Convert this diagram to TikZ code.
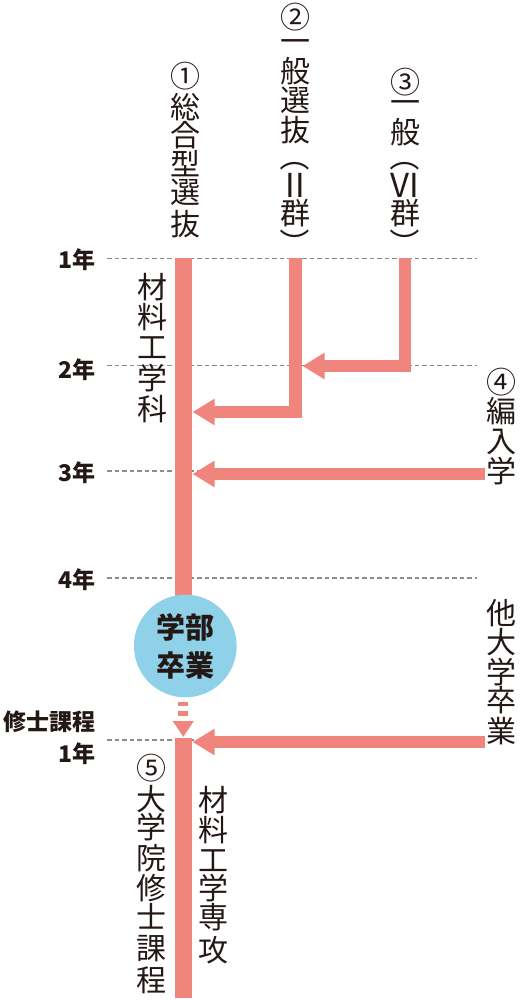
\documentclass[tikz,border=0pt]{standalone}
\usepackage{fontspec}
\setmainfont{Noto Sans CJK JP}
\newfontfamily\jp{Noto Sans CJK JP}
\usetikzlibrary{arrows.meta}
\definecolor{pinkc}{HTML}{F0857D}
\definecolor{bluec}{HTML}{8ED1E8}
\definecolor{inkc}{HTML}{231815}
\definecolor{gridc}{HTML}{8C8C8C}
\begin{document}
\begin{tikzpicture}[x=1pt,y=-1pt,
  vch/.style={inner sep=0pt, text=inkc, text height=26.4pt, text depth=3.6pt,
              font=\jp\fontsize{30}{30}\selectfont},
  vpar/.style={vch, rotate=-90},
  lat/.style={inner sep=0pt, text=inkc, font=\jp\fontsize{33}{33}\selectfont},
  yr/.style={inner sep=0pt, text=inkc, anchor=east, font=\jp\bfseries\fontsize{23}{23}\selectfont},
  gridline/.style={draw=gridc, line width=1.5pt, dash pattern=on 4.5pt off 3pt},
  bar/.style={draw=pinkc, line width=16.5pt},
  flow/.style={draw=pinkc, line width=12.5pt, -{Triangle[length=22pt,width=25pt]}},
]
\useasboundingbox (0,0) rectangle (520,1000);

% year grid lines
\foreach \y/\n in {258.3/g1, 365.5/g2, 471/g3, 578/g4, 740/g5} {
  \coordinate (\n-l) at (107,\y);
  \coordinate (\n-r) at (477,\y);
  \draw[gridline] (\n-l) -- (\n-r);
}

% year labels
\node[yr] (y1) at (96,259.5) {1年};
\node[yr] (y2) at (96,370) {2年};
\node[yr] (y3) at (96,473) {3年};
\node[yr] (y4) at (96,580) {4年};
\node[yr] (ms) at (96,721.7) {修士課程};
\node[yr] (m1) at (96,754) {1年};

% undergraduate bar and graduation circle
\coordinate (u-top) at (183.3,258);
\coordinate (gc) at (185.3,646);
\draw[bar] (u-top) -- (u-top |- gc);
\node[circle, fill=bluec, minimum size=102.7pt, inner sep=0pt, text=inkc, align=center,
      font=\jp\bfseries\fontsize{29}{38}\selectfont] (grad) at (gc) {学部\\卒業};

% branch arrows
\coordinate (b2) at (295.5,258);
\coordinate (t2) at (192.5,412);
\draw[flow] (b2) |- (t2);
\coordinate (b3) at (405,258);
\coordinate (t3) at (302.5,366);
\draw[flow] (b3) |- (t3);
\coordinate (s4) at (485,474);
\coordinate (t4) at (192.5,474);
\draw[flow] (s4) -- (t4);
\coordinate (s5) at (485,742);
\coordinate (t5) at (192.5,742);
\draw[flow] (s5) -- (t5);

% dashed link to master's course
\coordinate (m-top) at (183.3,737);
\coordinate (m-bot) at (183.3,998);
\coordinate (d-start) at ([yshift=-4.4pt]grad.south);
\draw[draw=pinkc, line width=10pt, dash pattern=on 4.3pt off 5pt,
      -{Triangle[length=16pt,width=20pt]}] (d-start -| m-top) -- (m-top);
\draw[bar] ([yshift=-1pt]m-top) -- (m-bot);

% vertical texts
\foreach \c/\y [count=\i] in {①/75.8, 総/107.5, 合/135.5, 型/164.2, 選/192.3, 抜/224}
  \node[vch] (ca\i) at (185,\y) {\c};
\foreach \c/\y [count=\i] in {②/17.5, 一/40.7, 般/71.5, 選/100, 抜/130.5, 群/213.5}
  \node[vch] (cb\i) at (295,\y) {\c};
\node[vpar] (cbo) at (295,156.6) {（};
\node[lat] (cbr) at (295,185) {II};
\node[vpar] (cbc) at (295,243.4) {）};
\foreach \c/\y [count=\i] in {③/82.5, 一/101.7, 般/132, 群/213.5}
  \node[vch] (cc\i) at (405,\y) {\c};
\node[vpar] (cco) at (405,156.6) {（};
\node[lat] (ccr) at (405,185) {VI};
\node[vpar] (ccc) at (405,243.4) {）};
\foreach \c/\y [count=\i] in {材/287.5, 料/317.5, 工/346.7, 学/378, 科/409}
  \node[vch] (cd\i) at (152.5,\y) {\c};
\foreach \c/\y [count=\i] in {④/381.7, 編/411.5, 入/441.5, 学/471.5}
  \node[vch] (ce\i) at (501.7,\y) {\c};
\foreach \c/\y [count=\i] in {他/613.3, 大/642.5, 学/671.7, 卒/700.5, 業/731}
  \node[vch] (cf\i) at (501.5,\y) {\c};
\foreach \c/\y [count=\i] in {⑤/768.5, 大/799, 学/827.5, 院/858, 修/888, 士/916.7, 課/948, 程/980}
  \node[vch] (cg\i) at (151.7,\y) {\c};
\foreach \c/\y [count=\i] in {材/800, 料/830, 工/860, 学/888, 専/916.7, 攻/950}
  \node[vch] (ch\i) at (213.3,\y) {\c};
\end{tikzpicture}
\end{document}
